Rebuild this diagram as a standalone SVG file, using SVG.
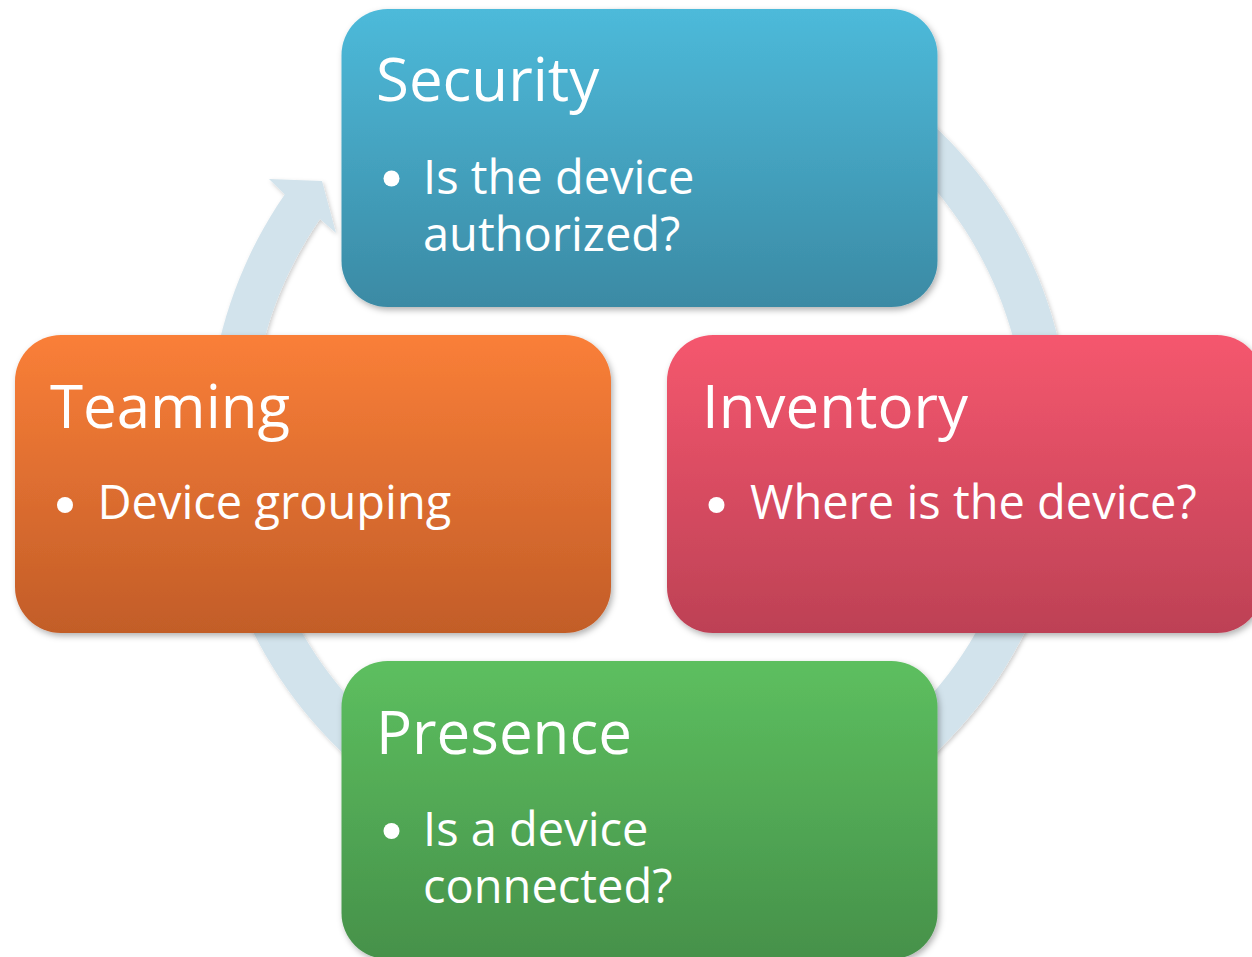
<svg xmlns="http://www.w3.org/2000/svg" width="1252" height="957" viewBox="0 0 1252 957">
  <defs>
    <style>
      .title { font-family: "Open Sans", "Liberation Sans", sans-serif; font-size: 60px; fill: #ffffff; }
      .body { font-family: "Open Sans", "Liberation Sans", sans-serif; font-size: 47px; fill: #ffffff; }
      .bullet { fill: #ffffff; }
      .box { filter: url(#shadow); }
    </style>
    <filter id="shadow" x="-10%" y="-10%" width="125%" height="130%">
      <feDropShadow dx="2" dy="3" stdDeviation="3" flood-color="#000000" flood-opacity="0.3"/>
    </filter>
    <filter id="ringShadow" x="-10%" y="-10%" width="125%" height="125%">
      <feDropShadow dx="1.5" dy="2" stdDeviation="2" flood-color="#000000" flood-opacity="0.2"/>
    </filter>
    <linearGradient id="gSec" x1="0" y1="0" x2="0" y2="1">
      <stop offset="0" stop-color="#4DBADA"/>
      <stop offset="1" stop-color="#3B8AA4"/>
    </linearGradient>
    <linearGradient id="gTeam" x1="0" y1="0" x2="0" y2="1">
      <stop offset="0" stop-color="#FA7F38"/>
      <stop offset="1" stop-color="#C25D28"/>
    </linearGradient>
    <linearGradient id="gInv" x1="0" y1="0" x2="0" y2="1">
      <stop offset="0" stop-color="#F5576E"/>
      <stop offset="1" stop-color="#BD4155"/>
    </linearGradient>
    <linearGradient id="gPres" x1="0" y1="0" x2="0" y2="1">
      <stop offset="0" stop-color="#5DBF5F"/>
      <stop offset="1" stop-color="#46914A"/>
    </linearGradient>
  </defs>

  <rect x="0" y="0" width="1252" height="957" fill="#ffffff"/>

  <g id="connectors">
    <path filter="url(#ringShadow)" fill="#D2E3EC"
      d="M 362.0,109.8 A 431 431 0 1 1 284.7,194.6 L 269,179 L 322,181 L 336,233 L 320.0,219.1 A 388 388 0 1 0 389.6,142.8 Z"/>
  </g>

  <g id="security">
    <rect class="box" x="341.5" y="9" width="596" height="298" rx="46" ry="46" fill="url(#gSec)"/>
    <text class="title" x="376" y="101">Security</text>
    <circle class="bullet" cx="391.5" cy="178.5" r="8"/>
    <text class="body"><tspan x="423" y="194">Is the device</tspan><tspan x="423" y="251">authorized?</tspan></text>
  </g>

  <g id="teaming">
    <rect class="box" x="15" y="335" width="596" height="298" rx="46" ry="46" fill="url(#gTeam)"/>
    <text class="title" x="50" y="428">Teaming</text>
    <circle class="bullet" cx="65" cy="505" r="8"/>
    <text class="body" x="97.5" y="519">Device grouping</text>
  </g>

  <g id="inventory">
    <rect class="box" x="667" y="335" width="596" height="298" rx="46" ry="46" fill="url(#gInv)"/>
    <text class="title" x="702" y="428">Inventory</text>
    <circle class="bullet" cx="716.5" cy="505" r="8"/>
    <text class="body" x="750" y="519">Where is the device?</text>
  </g>

  <g id="presence">
    <rect class="box" x="341.5" y="661" width="596" height="298" rx="46" ry="46" fill="url(#gPres)"/>
    <text class="title" x="376" y="754">Presence</text>
    <circle class="bullet" cx="391.5" cy="831" r="8"/>
    <text class="body"><tspan x="423" y="846">Is a device</tspan><tspan x="423" y="903">connected?</tspan></text>
  </g>
</svg>
